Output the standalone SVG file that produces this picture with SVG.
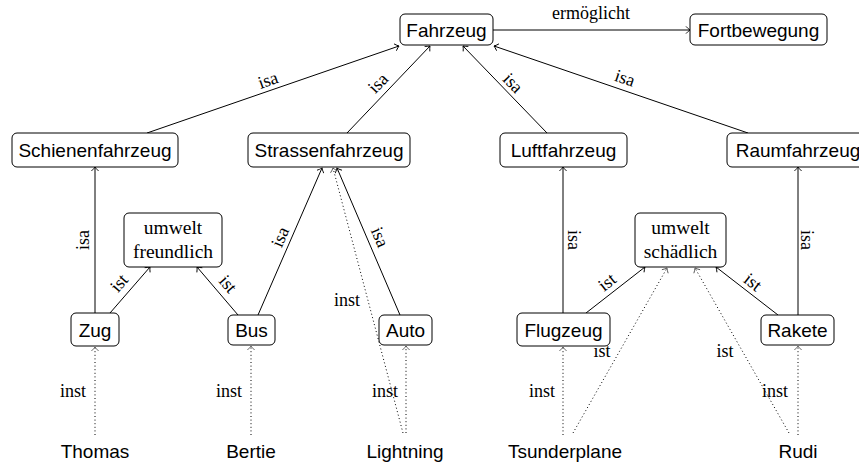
<svg xmlns="http://www.w3.org/2000/svg" width="859" height="462" viewBox="0 0 859 462">
<style>
.box{fill:#fff;stroke:#000;stroke-width:1}
.n{font-family:"Liberation Sans",Arial,sans-serif;font-size:19px;text-anchor:middle;fill:#000}
.s{font-family:"Liberation Serif","Times New Roman",serif;font-size:19.5px;text-anchor:middle;fill:#000}
.l{font-family:"Liberation Serif","Times New Roman",serif;font-size:18px;text-anchor:middle;dominant-baseline:central;fill:#000}
.e{fill:none;stroke:#000;stroke-width:1;marker-end:url(#arr)}
.d{fill:none;stroke:#000;stroke-width:1;stroke-dasharray:1 2.6;marker-end:url(#arrd)}
</style>
<defs>
<marker id="arr" markerUnits="userSpaceOnUse" viewBox="-6 -6 8 12" refX="0" refY="0" markerWidth="8" markerHeight="12" orient="auto" overflow="visible">
<path d="M-4,-3.6 Q-1.6,-1 0,0 Q-1.6,1 -4,3.6" fill="none" stroke="#000" stroke-width="0.9"/>
</marker>
<marker id="arrd" markerUnits="userSpaceOnUse" viewBox="-6 -6 8 12" refX="0" refY="0" markerWidth="8" markerHeight="12" orient="auto" overflow="visible">
<path d="M-4,-3.6 Q-1.6,-1 0,0 Q-1.6,1 -4,3.6" fill="none" stroke="#444" stroke-width="0.8"/>
</marker>
</defs>
<rect width="859" height="462" fill="#fff"/>
<g id="connectors">
<path class="e" d="M493,30 L690,30"/>
<path class="e" d="M147,133 L399,46"/>
<path class="e" d="M347,133 L430,46"/>
<path class="e" d="M547,133 L463,46"/>
<path class="e" d="M748,133 L494,46"/>
<path class="e" d="M95,313 L95,167"/>
<path class="e" d="M110,313 L150,267"/>
<path class="e" d="M238,315 L197,267"/>
<path class="e" d="M258,315 L322,168"/>
<path class="e" d="M400,315 L337,168"/>
<path class="d" d="M403,433 L333,168"/>
<path class="d" d="M406,433 L406,346"/>
<path class="d" d="M95,435 L95,347"/>
<path class="d" d="M251,435 L251,346"/>
<path class="e" d="M563,313 L563,167"/>
<path class="e" d="M586,313 L645,267"/>
<path class="e" d="M778,315 L716,267"/>
<path class="e" d="M798,315 L798,167"/>
<path class="d" d="M563,435 L563,347"/>
<path class="d" d="M573,433 L667,268"/>
<path class="d" d="M798,435 L798,346"/>
<path class="d" d="M789,433 L695,268"/>
<text class="l" x="591" y="13">ermöglicht</text>
<text class="l" transform="translate(268,80) rotate(-19)">isa</text>
<text class="l" transform="translate(378,83) rotate(-46)">isa</text>
<text class="l" transform="translate(513,83) rotate(46)">isa</text>
<text class="l" transform="translate(625,78) rotate(19)">isa</text>
<text class="l" transform="translate(83,240) rotate(-90)">isa</text>
<text class="l" transform="translate(119,283) rotate(-49)">ist</text>
<text class="l" transform="translate(228,284) rotate(49)">ist</text>
<text class="l" transform="translate(280,237) rotate(-66)">isa</text>
<text class="l" transform="translate(380,237) rotate(67)">isa</text>
<text class="l" x="347" y="300">inst</text>
<text class="l" x="73" y="391">inst</text>
<text class="l" x="229" y="391">inst</text>
<text class="l" x="385" y="391">inst</text>
<text class="l" transform="translate(574,240) rotate(90)">isa</text>
<text class="l" transform="translate(607,282) rotate(-38)">ist</text>
<text class="l" transform="translate(753,282) rotate(38)">ist</text>
<text class="l" transform="translate(807,240) rotate(90)">isa</text>
<text class="l" x="542" y="391">inst</text>
<text class="l" x="602" y="351">ist</text>
<text class="l" x="725" y="351">ist</text>
<text class="l" x="775" y="391">inst</text>
</g>
<g id="Fahrzeug"><rect class="box" x="400" y="14" width="93" height="31" rx="5"/><text class="n" x="446.5" y="37">Fahrzeug</text></g>
<g id="Fortbewegung"><rect class="box" x="690" y="14" width="137" height="31" rx="5"/><text class="n" x="758.5" y="37">Fortbewegung</text></g>
<g id="Schienenfahrzeug"><rect class="box" x="12" y="133" width="166" height="34" rx="5"/><text class="n" x="95" y="157">Schienenfahrzeug</text></g>
<g id="Strassenfahrzeug"><rect class="box" x="248" y="133" width="162" height="34" rx="5"/><text class="n" x="329" y="157">Strassenfahrzeug</text></g>
<g id="Luftfahrzeug"><rect class="box" x="500" y="133" width="127" height="34" rx="5"/><text class="n" x="563.5" y="157">Luftfahrzeug</text></g>
<g id="Raumfahrzeug"><rect class="box" x="727" y="133" width="142" height="34" rx="5"/><text class="n" x="798" y="157">Raumfahrzeug</text></g>
<g id="umweltfreundlich"><rect class="box" x="124" y="213" width="98" height="54" rx="5"/><text class="s" x="173" y="234">umwelt</text><text class="s" x="173" y="258">freundlich</text></g>
<g id="umweltschaedlich"><rect class="box" x="635" y="213" width="91" height="54" rx="5"/><text class="s" x="680.5" y="234">umwelt</text><text class="s" x="680.5" y="258">schädlich</text></g>
<g id="Zug"><rect class="box" x="71" y="313" width="48" height="33" rx="5"/><text class="n" x="95" y="337">Zug</text></g>
<g id="Bus"><rect class="box" x="228" y="315" width="47" height="30" rx="5"/><text class="n" x="251.5" y="337">Bus</text></g>
<g id="Auto"><rect class="box" x="379" y="315" width="53" height="30" rx="5"/><text class="n" x="405.5" y="337">Auto</text></g>
<g id="Flugzeug"><rect class="box" x="517" y="313" width="93" height="33" rx="5"/><text class="n" x="563.5" y="337">Flugzeug</text></g>
<g id="Rakete"><rect class="box" x="761" y="315" width="73" height="30" rx="5"/><text class="n" x="797.5" y="337">Rakete</text></g>
<g id="Thomas"><text class="n" x="95" y="458">Thomas</text></g>
<g id="Bertie"><text class="n" x="251" y="458">Bertie</text></g>
<g id="Lightning"><text class="n" x="405" y="458">Lightning</text></g>
<g id="Tsunderplane"><text class="n" x="565" y="458">Tsunderplane</text></g>
<g id="Rudi"><text class="n" x="798" y="458">Rudi</text></g>
</svg>
